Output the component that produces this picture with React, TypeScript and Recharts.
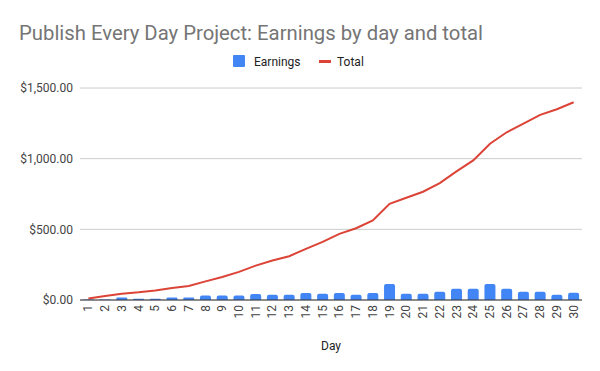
import React from 'react'
import {
  Bar,
  CartesianGrid,
  ComposedChart,
  Customized,
  Line,
  XAxis,
  YAxis,
} from 'recharts'

const days = [
  '1', '2', '3', '4', '5', '6', '7', '8', '9', '10',
  '11', '12', '13', '14', '15', '16', '17', '18', '19', '20',
  '21', '22', '23', '24', '25', '26', '27', '28', '29', '30',
]
const earnings = [
  3, 3, 17, 9, 9, 17, 17, 31, 31, 31,
  43, 38, 38, 50, 45, 50, 38, 50, 114, 44,
  44, 58, 79, 79, 114, 79, 58, 58, 37, 51,
]
const total = [
  10, 28, 45, 54, 68, 85, 99, 132, 163, 199,
  243, 279, 310, 362, 411, 468, 508, 563, 681, 723,
  766, 827, 910, 988, 1106, 1187, 1248, 1310, 1350, 1399,
]
const yTicks = [0, 500, 1000, 1500]

const data = days.map((day, i) => ({ day, earnings: earnings[i], total: total[i] }))

const FONT = 'Roboto, "Noto Sans", sans-serif'
const money = (v: number) =>
  '$' + v.toLocaleString('en-US', { minimumFractionDigits: 2, maximumFractionDigits: 2 })

// rotated day labels, reading bottom-to-top like Sheets does
const DayTick = (props: any) => {
  const { x, y, payload } = props
  const ty = y + 5
  return (
    <text
      x={x}
      y={ty}
      dy={4}
      transform={`rotate(-90, ${x}, ${ty})`}
      textAnchor="end"
      fontSize={12}
      fill="#444"
      fontFamily={FONT}
    >
      {payload.value}
    </text>
  )
}

const TitleAndLegend = () => (
  <g fontFamily={FONT}>
    <text x={19} y={40} fontSize={20} fill="#757575" textLength={464} lengthAdjust="spacingAndGlyphs">
      Publish Every Day Project: Earnings by day and total
    </text>
    <rect x={233} y={55} width={12} height={12} rx={1} fill="#4285F4" />
    <text x={254} y={65.5} fontSize={12} fill="#222">Earnings</text>
    <rect x={319} y={60} width={12} height={3} fill="#DB4437" />
    <text x={337} y={65.5} fontSize={12} fill="#222">Total</text>
  </g>
)

export default function App() {
  return (
    <div style={{ position: 'absolute', left: 0, top: 0, width: 600, height: 371, background: '#fff' }}>
      <ComposedChart
        width={600}
        height={371}
        data={data}
        margin={{ top: 88, right: 18, bottom: 0, left: 0 }}
        barCategoryGap="17%"
      >
        <CartesianGrid vertical={false} stroke="#cccccc" />
        <XAxis
          dataKey="day"
          interval={0}
          height={71}
          tickLine={false}
          tickSize={0}
          tickMargin={0}
          axisLine={{ stroke: '#333' }}
          tick={<DayTick />}
          label={{ value: 'Day', position: 'insideBottom', offset: 21, fontSize: 12, fill: '#222', fontFamily: FONT }}
        />
        <YAxis
          width={80}
          domain={[0, 1500]}
          ticks={yTicks}
          tickFormatter={money}
          axisLine={false}
          tickLine={false}
          tickSize={0}
          tickMargin={7}
          tick={{ fontSize: 12, fill: '#444', fontFamily: FONT }}
        />
        <Bar dataKey="earnings" name="Earnings" fill="#4285F4" radius={[2, 2, 0, 0]} isAnimationActive={false} />
        <Line
          dataKey="total"
          name="Total"
          type="linear"
          stroke="#DB4437"
          strokeWidth={2}
          dot={false}
          isAnimationActive={false}
        />
        <Customized component={TitleAndLegend} />
      </ComposedChart>
    </div>
  )
}
